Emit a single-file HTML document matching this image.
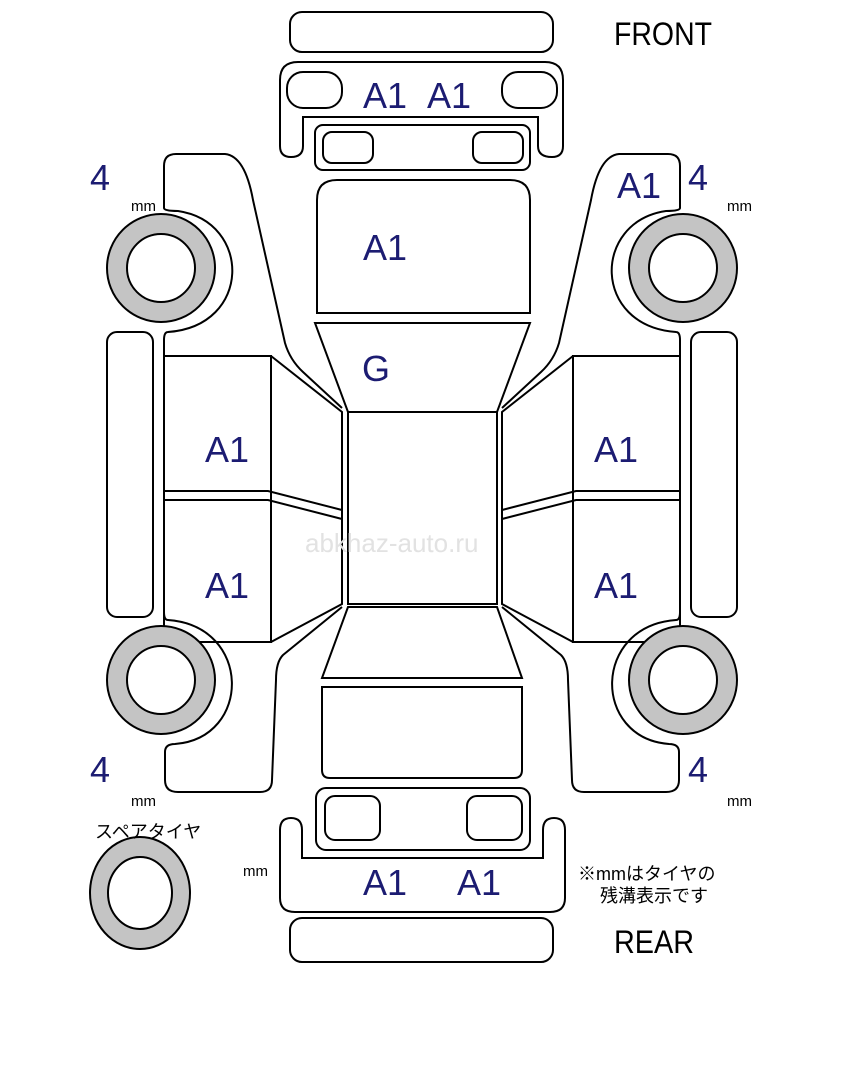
<!DOCTYPE html>
<html><head><meta charset="utf-8"><style>
html,body{margin:0;padding:0;background:#fff;}
svg{display:block;}
.l{fill:none;stroke:#000;stroke-width:2;}
.t{font-family:"Liberation Sans",sans-serif;fill:#1c1c72;font-size:36px;}
.f{font-family:"Liberation Sans",sans-serif;fill:#000;font-size:32px;}
.mm{font-family:"Liberation Sans",sans-serif;fill:#000;font-size:15px;}
.j{font-family:"Liberation Sans","Noto Sans CJK JP",sans-serif;fill:#000;font-size:18px;}
</style></head><body>
<svg width="847" height="1080" viewBox="0 0 847 1080" xmlns="http://www.w3.org/2000/svg">
<rect width="847" height="1080" fill="#fff"/>
<!-- center -->
<rect class="l" x="290" y="12" width="263" height="40" rx="12"/>
<path class="l" d="M291,157 Q280,157 280,146 L280,80 Q280,62 298,62 L545,62 Q563,62 563,80 L563,146 Q563,157 552,157 Q538,157 538,146 L538,117 L303,117 L303,146 Q303,157 291,157 Z"/>
<rect class="l" x="287" y="72" width="55" height="36" rx="16"/>
<rect class="l" x="502" y="72" width="55" height="36" rx="16"/>
<rect class="l" x="315" y="125" width="215" height="45" rx="8"/>
<rect class="l" x="323" y="132" width="50" height="31" rx="9"/>
<rect class="l" x="473" y="132" width="50" height="31" rx="9"/>
<path class="l" d="M317,313 L317,200 Q317,180 337,180 L510,180 Q530,180 530,200 L530,313 Z"/>
<path class="l" d="M315,323 L530,323 L497,412 L348,412 Z"/>
<rect class="l" x="348" y="412" width="149" height="192"/>
<path class="l" d="M348,607 L497,607 L522,678 L322,678 Z"/>
<path class="l" d="M322,687 L522,687 L522,770 Q522,778 514,778 L330,778 Q322,778 322,770 Z"/>
<rect class="l" x="316" y="788" width="214" height="62" rx="10"/>
<rect class="l" x="325" y="796" width="55" height="44" rx="10"/>
<rect class="l" x="467" y="796" width="55" height="44" rx="10"/>
<path class="l" d="M291,818 Q280,818 280,830 L280,898 Q280,912 295,912 L550,912 Q565,912 565,898 L565,830 Q565,818 554,818 Q543,818 543,830 L543,858 L302,858 L302,830 Q302,818 291,818 Z"/>
<rect class="l" x="290" y="918" width="263" height="44" rx="12"/>
<!-- left side, mirrored for right -->
<g id="side">
<path class="l" d="M164,208 L164,166 Q164,154 176,154 L225,154 Q245,156 253,200 L285,343 Q290,360 303,372 L342,408"/>
<path class="l" d="M164,208 Q164,211 178,211 C252,222 252,326 168,332 Q164,332 164,340 L164,642 L271,642 L271,356 L164,356"/>
<path class="l" d="M271,356 L342,412 L342,604 L271,642"/>
<path class="l" d="M164,491 L268,491 L342,510 M164,500 L268,500 L342,519"/>
<rect class="l" x="107" y="332" width="46" height="285" rx="10"/>
<path class="l" d="M283,655 L342,607 M283,655 Q276,662 276,680 L272,780 Q272,792 260,792 L178,792 Q165,792 165,780 L165,752 Q165,744 175,744 C252,738 252,626 168,620 Q164,620 164,612"/>
<circle cx="161" cy="268" r="54" fill="#c4c4c4" stroke="#000" stroke-width="2"/>
<circle cx="161" cy="268" r="34" fill="#fff" stroke="#000" stroke-width="2"/>
<circle cx="161" cy="680" r="54" fill="#c4c4c4" stroke="#000" stroke-width="2"/>
<circle cx="161" cy="680" r="34" fill="#fff" stroke="#000" stroke-width="2"/>
</g>
<use href="#side" transform="translate(844,0) scale(-1,1)"/>
<ellipse cx="140" cy="893" rx="50" ry="56" fill="#c4c4c4" stroke="#000" stroke-width="2"/>
<ellipse cx="140" cy="893" rx="32" ry="36" fill="#fff" stroke="#000" stroke-width="2"/>
<!-- text -->
<text class="t" x="363" y="108">A1</text>
<text class="t" x="427" y="108">A1</text>
<text class="t" x="363" y="260">A1</text>
<text class="t" x="362" y="381">G</text>
<text class="t" x="205" y="462">A1</text>
<text class="t" x="205" y="598">A1</text>
<text class="t" x="594" y="462">A1</text>
<text class="t" x="594" y="598">A1</text>
<text class="t" x="617" y="198">A1</text>
<text class="t" x="363" y="895">A1</text>
<text class="t" x="457" y="895">A1</text>
<text class="t" x="90" y="190">4</text>
<text class="t" x="688" y="190">4</text>
<text class="t" x="90" y="782">4</text>
<text class="t" x="688" y="782">4</text>
<text class="mm" x="131" y="211">mm</text>
<text class="mm" x="727" y="211">mm</text>
<text class="mm" x="131" y="806">mm</text>
<text class="mm" x="727" y="806">mm</text>
<text class="mm" x="243" y="876">mm</text>
<text class="f" x="614" y="45" textLength="98" lengthAdjust="spacingAndGlyphs">FRONT</text>
<text class="f" x="614" y="953" textLength="80" lengthAdjust="spacingAndGlyphs">REAR</text>
<text class="j" x="95" y="838">スペアタイヤ</text>
<text class="j" x="578" y="880">※mmはタイヤの</text>
<text class="j" x="600" y="902">残溝表示です</text>
<text x="305" y="552" font-family="Liberation Sans,sans-serif" font-size="26" fill="#e2e2e2">abkhaz-auto.ru</text>
</svg>
</body></html>
